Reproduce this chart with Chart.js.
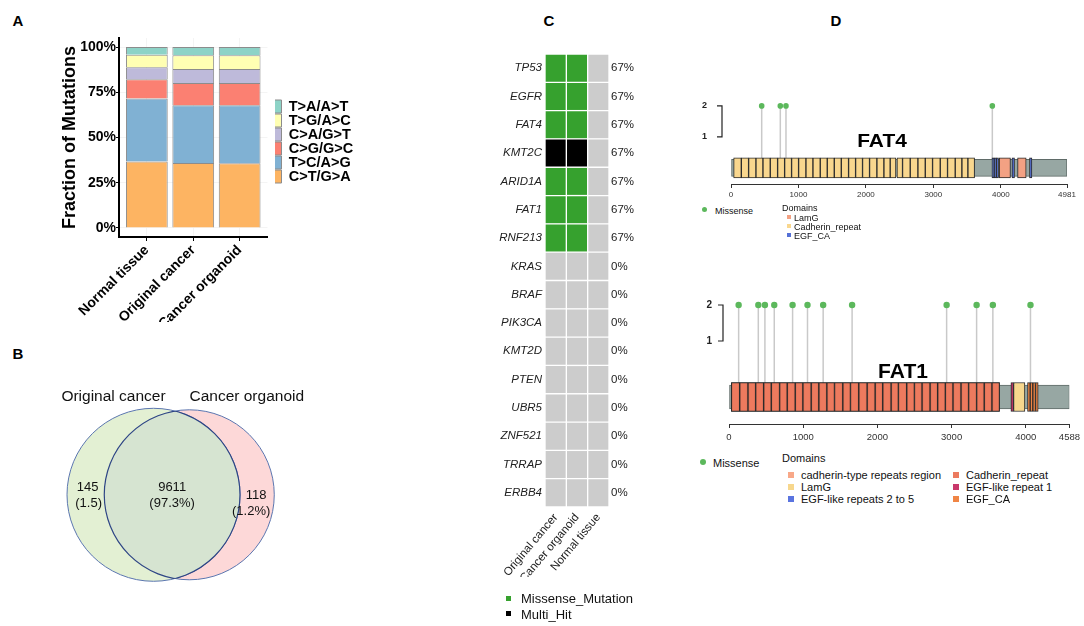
<!DOCTYPE html>
<html>
<head>
<meta charset="utf-8">
<script src="https://cdn.jsdelivr.net/npm/chart.js@4.4.0/dist/chart.umd.min.js"></script>
<style>
html, body { margin: 0; padding: 0; background: #fff; }
body { width: 1084px; height: 626px; position: relative; overflow: hidden; font-family: "Liberation Sans", Arial, sans-serif; }
canvas { position: absolute; }
.t { position: absolute; white-space: nowrap; color: #111; line-height: 1; }
.c { transform: translate(-50%, -50%); }
.l { transform: translateY(-50%); }
.panel { font-weight: bold; font-size: 15px; color: #000; }
.sq { position: absolute; }
.dot { position: absolute; border-radius: 50%; background: #5cb85c; }
</style>
</head>
<body>
<div class="t panel c" style="left:18px;top:20px">A</div>
<div class="t panel c" style="left:18px;top:353px">B</div>
<div class="t panel c" style="left:549px;top:20px">C</div>
<div class="t panel c" style="left:836px;top:20px">D</div>

<canvas id="chartA" width="380" height="322" style="left:0;top:0"></canvas>
<canvas id="chartB" width="340" height="286" style="left:0;top:340px"></canvas>
<canvas id="chartC" width="180" height="590" style="left:470px;top:30px"></canvas>
<canvas id="chartD1" width="394" height="120" style="left:690px;top:80px"></canvas>
<canvas id="chartD2" width="394" height="162" style="left:690px;top:280px"></canvas>

<!-- leyenda del panel C -->
<div class="sq" style="left:506px;top:596px;width:5px;height:5px;background:#36a12e"></div>
<div class="t l" style="left:521px;top:598px;font-size:13px">Missense_Mutation</div>
<div class="sq" style="left:506px;top:611px;width:5px;height:5px;background:#000"></div>
<div class="t l" style="left:521px;top:614px;font-size:13px">Multi_Hit</div>

<!-- FAT4 -->
<div class="t c" style="left:882px;top:140px;font-size:19px;font-weight:bold;color:#000;transform:translate(-50%,-50%) scaleX(1.1)">FAT4</div>
<div class="dot" style="left:702px;top:207px;width:5px;height:5px"></div>
<div class="t l" style="left:715px;top:211px;font-size:9px">Missense</div>
<div class="t l" style="left:782px;top:208px;font-size:9px">Domains</div>
<div class="sq" style="left:787px;top:215px;width:4px;height:4px;background:#f3a183"></div>
<div class="t l" style="left:794px;top:217.5px;font-size:9px">LamG</div>
<div class="sq" style="left:787px;top:224px;width:4px;height:4px;background:#f9d78e"></div>
<div class="t l" style="left:794px;top:226.5px;font-size:9px">Cadherin_repeat</div>
<div class="sq" style="left:787px;top:233px;width:4px;height:4px;background:#5470d6"></div>
<div class="t l" style="left:794px;top:235.5px;font-size:9px">EGF_CA</div>

<!-- FAT1 -->
<div class="t c" style="left:903px;top:370px;font-size:21px;font-weight:bold;color:#000">FAT1</div>
<div class="dot" style="left:700px;top:459px;width:6px;height:6px"></div>
<div class="t l" style="left:713px;top:463px;font-size:11px">Missense</div>
<div class="t l" style="left:782px;top:458px;font-size:11px">Domains</div>
<div class="sq" style="left:788px;top:472px;width:6px;height:6px;background:#f8a888"></div>
<div class="t l" style="left:801px;top:475px;font-size:11px">cadherin-type repeats region</div>
<div class="sq" style="left:788px;top:484px;width:6px;height:6px;background:#f7d78d"></div>
<div class="t l" style="left:801px;top:487px;font-size:11px">LamG</div>
<div class="sq" style="left:788px;top:496px;width:6px;height:6px;background:#5a74e0"></div>
<div class="t l" style="left:801px;top:499px;font-size:11px">EGF-like repeats 2 to 5</div>
<div class="sq" style="left:953px;top:472px;width:6px;height:6px;background:#ec7a5f"></div>
<div class="t l" style="left:966px;top:475px;font-size:11px">Cadherin_repeat</div>
<div class="sq" style="left:953px;top:484px;width:6px;height:6px;background:#c9386b"></div>
<div class="t l" style="left:966px;top:487px;font-size:11px">EGF-like repeat 1</div>
<div class="sq" style="left:953px;top:496px;width:6px;height:6px;background:#f08545"></div>
<div class="t l" style="left:966px;top:499px;font-size:11px">EGF_CA</div>

<script>
// ---- Panel A: espectro de mutaciones (% por muestra) ----
const sampleNames = ['Normal tissue', 'Original cancer', 'Cancer organoid'];
const mutTypes = ['C>T/G>A', 'T>C/A>G', 'C>G/G>C', 'C>A/G>T', 'T>G/A>C', 'T>A/A>T'];
const ctGA = [36.8, 35.9, 35.7];
const tcAG = [34.8, 31.9, 32.1];
const cgGC = [10.6, 12.3, 12.3];
const caGT = [6.6, 7.8, 7.8];
const tgAC = [6.9, 7.5, 7.5];
const taAT = [4.3, 4.6, 4.6];
const pctTicks = [0, 25, 50, 75, 100];

// ---- Panel B: Venn ----
const vennSets = ['Original cancer', 'Cancer organoid'];
const vennCounts = [145, 9611, 118];
const vennShares = ['(1.5)', '(97.3%)', '(1.2%)'];

// ---- Panel C: oncoplot ----
const genes = ['TP53', 'EGFR', 'FAT4', 'KMT2C', 'ARID1A', 'FAT1', 'RNF213', 'KRAS', 'BRAF', 'PIK3CA', 'KMT2D', 'PTEN', 'UBR5', 'ZNF521', 'TRRAP', 'ERBB4'];
const geneFreq = ['67%', '67%', '67%', '67%', '67%', '67%', '67%', '0%', '0%', '0%', '0%', '0%', '0%', '0%', '0%', '0%'];
const oncoSamples = ['Original cancer', 'Cancer organoid', 'Normal tissue'];
const origCancerHits = ['Missense', 'Missense', 'Missense', 'Multi_Hit', 'Missense', 'Missense', 'Missense', 'none', 'none', 'none', 'none', 'none', 'none', 'none', 'none', 'none'];
const organoidHits = ['Missense', 'Missense', 'Missense', 'Multi_Hit', 'Missense', 'Missense', 'Missense', 'none', 'none', 'none', 'none', 'none', 'none', 'none', 'none', 'none'];
const normalHits = ['none', 'none', 'none', 'none', 'none', 'none', 'none', 'none', 'none', 'none', 'none', 'none', 'none', 'none', 'none', 'none'];

// ---- Panel D: lollipops FAT4 / FAT1 ----
const fat4Length = 4981;
const fat4Ticks = [0, 1000, 2000, 3000, 4000, 4981];
const fat4MissensePos = [455, 731, 815, 3874];
const fat4MissenseCount = [2, 2, 2, 2];
const fat4CadherinEdgesA = [39, 153, 261, 370, 474, 582, 691, 795, 898, 1002, 1111, 1215, 1323, 1427, 1531, 1635, 1743, 1847, 1950, 2054, 2163, 2267, 2360, 2445];
const fat4CadherinEdgesB = [2460, 2543, 2657, 2771, 2880, 2988, 3102, 3210, 3324, 3423, 3512, 3611];
const fat4LamG = [[3976, 4143], [4248, 4376]];
const fat4EgfCa = [[3868, 3901], [3901, 3934], [3934, 3966], [4165, 4203], [4425, 4461]];

const fat1Length = 4588;
const fat1Ticks = [0, 1000, 2000, 3000, 4000, 4588];
const fat1MissensePos = [130, 395, 484, 610, 857, 1058, 1269, 1659, 2933, 3337, 3556, 4063];
const fat1MissenseCount = [2, 2, 2, 2, 2, 2, 2, 2, 2, 2, 2, 2];
const fat1CadRegion = [[32, 3646]];
const fat1CadherinEdges = [32, 144, 256, 359, 467, 570, 682, 785, 893, 996, 1108, 1211, 1319, 1422, 1534, 1637, 1749, 1862, 1970, 2072, 2185, 2283, 2395, 2499, 2602, 2710, 2812, 2916, 3019, 3127, 3229, 3337, 3440, 3544, 3646];
const fat1Egf1 = [[3799, 3835]];
const fat1LamG = [[3835, 3988]];
const fat1EgfCa = [[4023, 4059], [4059, 4095], [4095, 4131], [4131, 4167]];
const countTicks = [1, 2];

Chart.defaults.font.family = '"Liberation Sans", Arial, sans-serif';
Chart.defaults.color = '#000';

// Panel A
const mutColors = ['#fdb462', '#80b1d3', '#fb8072', '#bebada', '#ffffb3', '#8dd3c7'];
const mutSeries = [ctGA, tcAG, cgGC, caGT, tgAC, taAT];

// Mueve un poco la leyenda (ggplot deja hueco entre panel y leyenda);
// se ensancha la caja porque la leyenda recorta su dibujo a ella
const nudgeLegend = {
    id: 'nudgeLegend',
    afterLayout(chart, args, opts) {
        const lg = chart.legend;
        lg.left += opts.dx; lg.right += opts.dx + 20;
        lg.top += opts.dy; lg.bottom += opts.dy;
    }
};

// eje x lineal con la expansión de ggplot (0.6 a cada lado)
new Chart(document.getElementById('chartA'), {
    type: 'bar',
    data: {
        datasets: mutTypes.map((t, i) => ({
            label: t,
            data: mutSeries[i].map((v, k) => ({ x: k, y: v })),
            backgroundColor: mutColors[i],
            borderColor: '#8c8c8c', borderWidth: 1, barPercentage: 0.9, categoryPercentage: 1
        }))
    },
    options: {
        responsive: false, animation: false,
        layout: { padding: { left: 59, top: 38, right: 43, bottom: 0 } },
        scales: {
            x: {
                type: 'linear', stacked: true, min: -0.6, max: sampleNames.length - 0.4, offset: false,
                afterBuildTicks: s => { s.ticks = sampleNames.map((n, k) => ({ value: k })); },
                grid: { offset: false, color: '#f4f4f4', tickColor: '#000', tickLength: 4 },
                border: { color: '#000', width: 2 },
                ticks: { callback: v => sampleNames[v], font: { size: 14, weight: 'bold' }, color: '#000', minRotation: 45, maxRotation: 45, padding: 1, autoSkip: false },
                afterFit: s => { s.height = 85; }
            },
            y: {
                stacked: true, min: -5, max: 105,
                afterBuildTicks: s => { s.ticks = pctTicks.map(v => ({ value: v })); },
                ticks: { callback: v => v + '%', font: { size: 14, weight: 'bold' }, color: '#000', padding: 0 },
                grid: { color: '#f4f4f4', tickColor: '#000', tickLength: 3 },
                border: { color: '#000', width: 2 },
                title: { display: true, text: 'Fraction of Mutations', font: { size: 18, weight: 'bold' }, color: '#000', padding: 0 },
                afterFit: s => { s.width = 60; }
            }
        },
        plugins: {
            legend: {
                position: 'right', reverse: true, fullSize: false,
                labels: { boxWidth: 7, boxHeight: 13, padding: -0.5, color: '#000', font: { size: 14.5, weight: 'bold', lineHeight: 1 } }
            },
            tooltip: { enabled: false },
            nudgeLegend: { dx: 7.5, dy: 4 }
        }
    },
    plugins: [nudgeLegend]
});

// Panel B: dos círculos (bubble) y la intersección pintada encima
const vennGeom = { cx: [153.3, 189.5], cy: 155, r: [86.5, 85], w: 340, h: 286 };
// el controlador bubble reserva un margen igual al radio mayor: lo compensamos en las escalas
const vennPad = Math.max(...vennGeom.r);

const vennOverlap = {
    id: 'vennOverlap',
    afterDatasetsDraw(chart) {
        const a = chart.getDatasetMeta(0).data[0];
        const b = chart.getDatasetMeta(1).data[0];
        const ra = a.options.radius, rb = b.options.radius;
        const ctx = chart.ctx;
        ctx.save();
        ctx.beginPath(); ctx.arc(a.x, a.y, ra, 0, Math.PI * 2); ctx.clip();
        ctx.beginPath(); ctx.arc(b.x, b.y, rb, 0, Math.PI * 2);
        ctx.fillStyle = '#d6e4d1'; ctx.fill();
        ctx.strokeStyle = '#2e4585'; ctx.lineWidth = 1.2; ctx.stroke();
        ctx.restore();
        ctx.save();
        ctx.beginPath(); ctx.arc(b.x, b.y, rb, 0, Math.PI * 2); ctx.clip();
        ctx.beginPath(); ctx.arc(a.x, a.y, ra, 0, Math.PI * 2);
        ctx.strokeStyle = '#2e4585'; ctx.lineWidth = 1.2; ctx.stroke();
        ctx.restore();

        // textos
        ctx.save();
        ctx.fillStyle = '#111'; ctx.textAlign = 'center'; ctx.textBaseline = 'middle';
        ctx.font = '15.5px "Liberation Sans", Arial, sans-serif';
        ctx.fillText(vennSets[0], a.x - 40, a.y - 98);
        ctx.fillText(vennSets[1], b.x + 57.5, a.y - 98);
        ctx.font = '13px "Liberation Sans", Arial, sans-serif';
        const xl = ((a.x - ra) + (b.x - rb)) / 2 + 2;
        const xm = ((b.x - rb) + (a.x + ra)) / 2;
        const xr = ((a.x + ra) + (b.x + rb)) / 2;
        ctx.fillText(String(vennCounts[0]), xl, a.y - 7);
        ctx.fillText(vennShares[0], xl + 1, a.y + 8.5);
        ctx.fillText(String(vennCounts[1]), xm, a.y - 7);
        ctx.fillText(vennShares[1], xm, a.y + 8.5);
        ctx.fillText(String(vennCounts[2]), xr - 1, a.y + 1);
        ctx.fillText(vennShares[2], xr - 6, a.y + 17);
        ctx.restore();
    }
};

new Chart(document.getElementById('chartB'), {
    type: 'bubble',
    data: {
        datasets: [
            { label: vennSets[0], data: [{ x: vennGeom.cx[0], y: vennGeom.cy, r: vennGeom.r[0] }], backgroundColor: '#e3f0d3', borderColor: '#5b76b0', borderWidth: 1, order: 1, clip: false },
            { label: vennSets[1], data: [{ x: vennGeom.cx[1], y: vennGeom.cy, r: vennGeom.r[1] }], backgroundColor: '#fdd8d8', borderColor: '#5b76b0', borderWidth: 1, order: 2, clip: false }
        ]
    },
    options: {
        responsive: false, animation: false,
        layout: { padding: 0 },
        scales: {
            x: { display: false, min: vennPad, max: vennGeom.w - vennPad },
            y: { display: false, min: vennPad, max: vennGeom.h - vennPad, reverse: true }
        },
        plugins: { legend: { display: false }, tooltip: { enabled: false } }
    },
    plugins: [vennOverlap]
});

// Panel C: oncoplot como barras horizontales apiladas
const hitColor = { Missense: '#36a12e', Multi_Hit: '#000000', none: '#cccccc' };
const hitsBySample = [origCancerHits, organoidHits, normalHits];

new Chart(document.getElementById('chartC'), {
    type: 'bar',
    data: {
        labels: genes,
        datasets: oncoSamples.map((s, j) => ({
            label: s,
            data: genes.map(() => 1),
            backgroundColor: hitsBySample[j].map(h => hitColor[h]),
            borderColor: 'rgba(255,255,255,0.85)', borderWidth: 1, borderSkipped: false,
            barPercentage: 1, categoryPercentage: 1
        }))
    },
    options: {
        responsive: false, animation: false, indexAxis: 'y',
        layout: { padding: { left: 0, right: 0, top: 24, bottom: 43 } },
        scales: {
            x: { stacked: true, min: 0, max: 3, display: false },
            y: {
                type: 'category', stacked: true,
                grid: { display: false, drawTicks: false, tickLength: 0 }, border: { display: false },
                ticks: { font: { size: 11.5, style: 'italic' }, color: '#222', padding: 3 },
                afterFit: s => { s.width = 75; }
            },
            y2: {
                type: 'category', labels: geneFreq, position: 'right', offset: true,
                grid: { display: false, drawTicks: false, tickLength: 0 }, border: { display: false },
                ticks: { font: { size: 11.5 }, color: '#222', padding: 2 },
                afterFit: s => { s.width = 41; }
            },
            xc: {
                type: 'category', labels: oncoSamples, position: 'bottom', offset: true,
                grid: { display: false, drawTicks: false, tickLength: 0 }, border: { display: false },
                ticks: { font: { size: 11.5 }, color: '#222', minRotation: 50, maxRotation: 50, autoSkip: false, padding: 4 },
                afterFit: s => { s.height = 70; }
            }
        },
        plugins: { legend: { display: false }, tooltip: { enabled: false } }
    }
});

// Panel D: lollipop + dominios
function edgesToPairs(edges) {
    const out = [];
    for (let i = 0; i < edges.length - 1; i++) out.push([edges[i], edges[i + 1]]);
    return out;
}

const bracket = {
    id: 'bracket',
    afterDraw(chart, args, opts) {
        const y = chart.scales.y, ctx = chart.ctx;
        const x0 = chart.chartArea.left - opts.gap;
        const top = y.getPixelForValue(countTicks[countTicks.length - 1]);
        const bot = y.getPixelForValue(countTicks[0]);
        ctx.save();
        ctx.strokeStyle = '#222'; ctx.lineWidth = 1.2;
        ctx.beginPath();
        ctx.moveTo(x0 - 5, top); ctx.lineTo(x0, top); ctx.lineTo(x0, bot); ctx.lineTo(x0 - 5, bot);
        ctx.stroke();
        ctx.fillStyle = '#222'; ctx.textAlign = 'right'; ctx.textBaseline = 'middle';
        ctx.font = 'bold ' + opts.size + 'px "Liberation Sans", Arial, sans-serif';
        countTicks.forEach(v => ctx.fillText(String(v), x0 - opts.labelGap, y.getPixelForValue(v)));
        ctx.restore();
    }
};

function domainSet(label, pairs, trackY, color, thick, order) {
    return {
        type: 'bar', label: label, indexAxis: 'y',
        data: pairs.map(p => ({ x: p, y: trackY })),
        backgroundColor: color, borderColor: '#2a2a2a', borderWidth: 1, borderSkipped: false,
        barThickness: thick, grouped: false, order: order
    };
}

function lollipop(id, cfg) {
    const datasets = [
        {
            type: 'scatter', label: 'stems',
            data: cfg.pos.flatMap((p, i) => [{ x: p, y: cfg.counts[i] }, { x: p, y: cfg.trackY }, { x: p, y: null }]),
            showLine: true, spanGaps: false, borderColor: '#c9c9c9', borderWidth: 1.5, pointRadius: 0, order: 5
        },
        {
            type: 'bar', label: 'protein', indexAxis: 'y',
            data: [{ x: [0, cfg.length], y: cfg.trackY }],
            backgroundColor: '#97a7a3', borderColor: '#5f6b68', borderWidth: 1, borderSkipped: false,
            barThickness: cfg.trackThick, grouped: false, order: 4
        }
    ].concat(cfg.domains.map(d => domainSet(d.label, d.pairs, cfg.trackY, d.color, cfg.domainThick, d.order)))
     .concat([{
        type: 'scatter', label: 'Missense',
        data: cfg.pos.map((p, i) => ({ x: p, y: cfg.counts[i] })),
        pointRadius: cfg.headR, backgroundColor: '#5cb85c', borderWidth: 0, order: 0
    }]);

    new Chart(document.getElementById(id), {
        type: 'scatter',
        data: { datasets: datasets },
        options: {
            responsive: false, animation: false,
            layout: { padding: cfg.padding },
            scales: {
                x: {
                    type: 'linear', min: 0, max: cfg.length, offset: false,
                    afterBuildTicks: s => { s.ticks = cfg.ticks.map(v => ({ value: v })); },
                    ticks: { font: { size: cfg.tickSize }, color: '#333', padding: cfg.tickPad, autoSkip: false, maxRotation: 0, callback: v => String(v) },
                    grid: { drawOnChartArea: false, tickLength: 4, color: '#333', offset: false },
                    border: { color: '#333', width: 1 },
                    afterFit: s => { s.height = cfg.axisH; }
                },
                y: { type: 'linear', min: cfg.yMin, max: cfg.yMax, display: false, offset: false, grid: { offset: false } }
            },
            plugins: {
                legend: { display: false }, tooltip: { enabled: false },
                bracket: { gap: cfg.bracketGap, labelGap: cfg.labelGap, size: cfg.labelSize }
            }
        },
        plugins: [bracket]
    });
}

lollipop('chartD1', {
    length: fat4Length, ticks: fat4Ticks, pos: fat4MissensePos, counts: fat4MissenseCount,
    trackY: 0, yMin: -0.52, yMax: 2.32, trackThick: 17, domainThick: 20, headR: 2.8,
    padding: { left: 41, right: 17, top: 16, bottom: 0 }, axisH: 16, tickSize: 8, tickPad: 2,
    bracketGap: 9, labelGap: 15, labelSize: 9,
    domains: [
        { label: 'Cadherin_repeat', pairs: edgesToPairs(fat4CadherinEdgesA).concat(edgesToPairs(fat4CadherinEdgesB)), color: '#f9d78e', order: 2 },
        { label: 'LamG', pairs: fat4LamG, color: '#f3a183', order: 2 },
        { label: 'EGF_CA', pairs: fat4EgfCa, color: '#5470d6', order: 2 }
    ]
});

lollipop('chartD2', {
    length: fat1Length, ticks: fat1Ticks, pos: fat1MissensePos, counts: fat1MissenseCount,
    trackY: -0.556, yMin: -1.306, yMax: 2.306, trackThick: 24, domainThick: 29, headR: 3.2,
    padding: { left: 39, right: 14, top: 14, bottom: 0 }, axisH: 18, tickSize: 9.5, tickPad: 4,
    bracketGap: 6, labelGap: 11, labelSize: 10,
    domains: [
        { label: 'cadherin-type repeats region', pairs: fat1CadRegion, color: '#f8a888', order: 3 },
        { label: 'Cadherin_repeat', pairs: edgesToPairs(fat1CadherinEdges), color: 'rgba(236,118,90,0.92)', order: 2 },
        { label: 'EGF-like repeat 1', pairs: fat1Egf1, color: '#c9386b', order: 2 },
        { label: 'LamG', pairs: fat1LamG, color: '#f7d78d', order: 2 },
        { label: 'EGF_CA', pairs: fat1EgfCa, color: '#f08545', order: 2 }
    ]
});
</script>
</body>
</html>
